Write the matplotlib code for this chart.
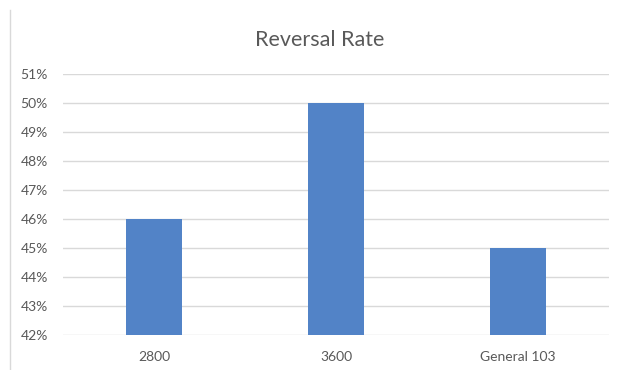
import matplotlib
matplotlib.use("Agg")
import matplotlib.pyplot as plt
from matplotlib.lines import Line2D
from matplotlib.ticker import FuncFormatter

categories = ["2800", "3600", "General 103"]
rates = [0.46, 0.50, 0.45]
y_ticks = [0.42, 0.43, 0.44, 0.45, 0.46, 0.47, 0.48, 0.49, 0.50, 0.51]

plt.rcParams["font.family"] = ["Lato", "DejaVu Sans"]

fig = plt.figure(figsize=(6.18, 3.70), dpi=100)
ax = fig.add_axes([0.1019, 0.0955, 0.8835, 0.7035])

x = range(len(categories))
ax.bar(x, [r - y_ticks[0] for r in rates], bottom=y_ticks[0], width=0.31,
       color="#5283C7", zorder=3)

ax.set_xlim(-0.5, len(categories) - 0.5)
ax.set_ylim(y_ticks[0], y_ticks[-1])
ax.set_yticks(y_ticks)
ax.yaxis.set_major_formatter(FuncFormatter(lambda v, _: f"{round(v * 100)}%"))
ax.set_xticks(list(x))
ax.set_xticklabels(categories)

ax.grid(axis="y", color="#D9D9D9", linewidth=1, zorder=0)
for s in ax.spines.values():
    s.set_visible(False)
ax.tick_params(axis="both", length=0, labelsize=10, labelcolor="#595959")
ax.tick_params(axis="x", pad=12)
ax.tick_params(axis="y", pad=11)

fig.text(0.518, 0.892, "Reversal Rate", ha="center", va="center",
         fontsize=15.5, color="#595959")

# chart-area outline on the left edge
fig.add_artist(Line2D([0.0165, 0.0165], [0.0, 0.973], transform=fig.transFigure,
                      color="#D9D9D9", linewidth=1))

fig.savefig("out.png", dpi=100)
